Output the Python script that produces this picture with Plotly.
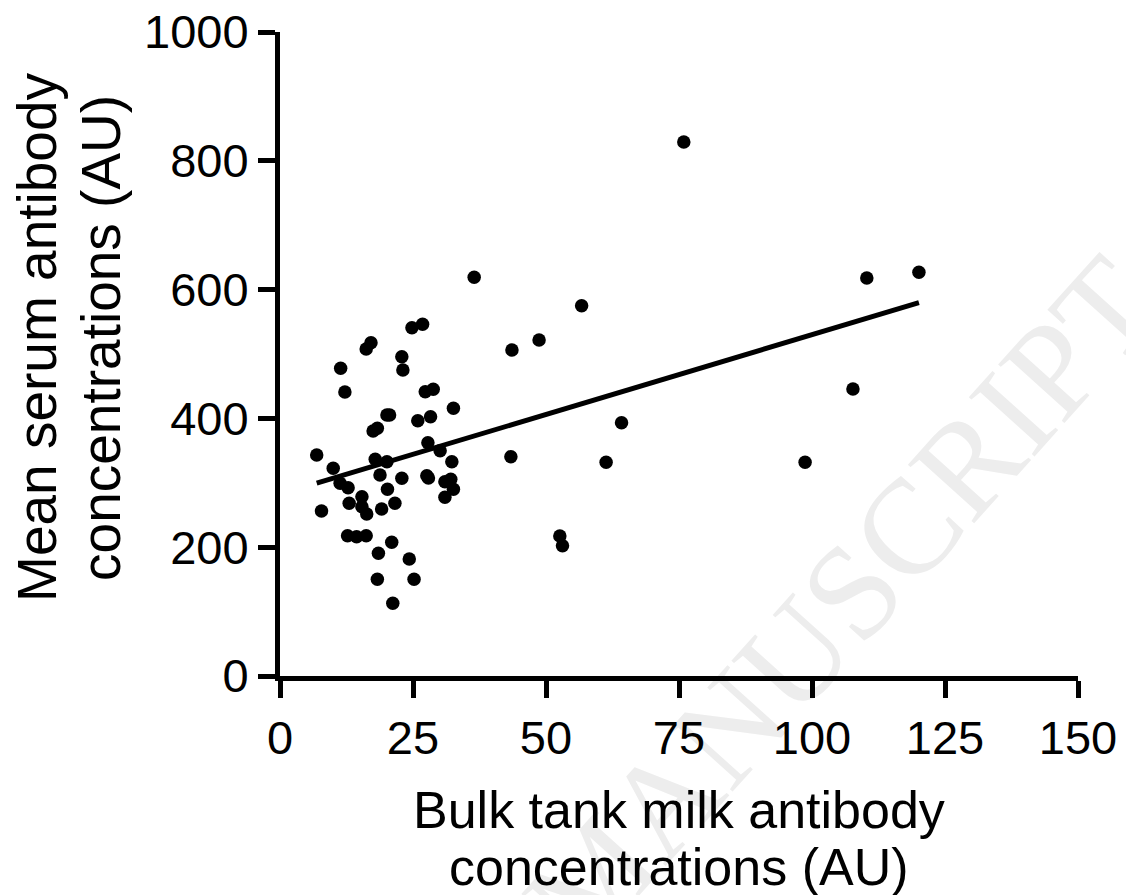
import numpy as np
import plotly.graph_objects as go

# Bulk tank milk antibody concentrations (AU)
milk_au = [
    24.8, 26.8, 16.2, 17.1, 22.9, 23.1, 11.4, 12.2, 27.3, 28.8,
    20.1, 20.6, 17.5, 18.3, 25.9, 28.3, 32.6, 27.8,
    6.9, 10.0, 17.9, 20.1, 30.1, 32.3, 11.3, 12.8, 18.8, 22.9,
    27.6, 27.9, 31.0, 32.1, 32.6, 20.2, 15.4, 31.0, 13.0, 7.8,
    15.4, 16.3, 19.1, 21.6, 12.7, 14.4, 16.2, 21.0, 18.5, 24.3,
    18.3, 25.2, 21.2,
    36.5, 56.7, 48.7, 43.6, 64.2, 43.4, 61.3, 52.6, 53.1, 75.9,
    110.3, 120.1, 107.7, 98.7,
]
# Mean serum antibody concentrations (AU)
serum_au = [
    540.8, 546.1, 507.8, 517.5, 495.8, 475.2, 477.8, 441.0, 441.5, 445.2,
    405.3, 405.3, 380.4, 384.6, 396.4, 402.6, 415.7, 362.3,
    343.2, 322.5, 336.5, 332.8, 349.8, 332.8, 299.2, 292.4, 312.1, 307.0,
    311.0, 307.5, 301.7, 305.4, 289.9, 289.9, 278.4, 277.5, 268.2, 256.2,
    262.9, 251.6, 259.3, 268.2, 217.9, 216.3, 217.9, 207.6, 190.5, 181.7,
    150.2, 150.2, 112.9,
    619.1, 575.0, 521.7, 506.2, 393.3, 340.5, 331.8, 217.4, 202.3, 829.2,
    618.0, 626.9, 445.6, 331.8,
]

x_ticks = [0, 25, 50, 75, 100, 125, 150]
y_ticks = [0, 200, 400, 600, 800, 1000]
x_title_lines = ["Bulk tank milk antibody", "concentrations (AU)"]
y_title_lines = ["Mean serum antibody", "concentrations (AU)"]
watermark = "MANUSCRIPT"

# linear regression line over the data range
xa = np.array(milk_au)
ya = np.array(serum_au)
slope, intercept = np.polyfit(xa, ya, 1)
fit_x = np.array([xa.min(), xa.max()])
fit_y = slope * fit_x + intercept

FONT = "Arial, Liberation Sans, sans-serif"

fig = go.Figure()
fig.add_trace(go.Scatter(
    x=milk_au, y=serum_au, mode="markers",
    marker=dict(color="black", size=13.5, line=dict(width=0)),
    showlegend=False, cliponaxis=False,
))
fig.add_trace(go.Scatter(
    x=fit_x, y=fit_y, mode="lines",
    line=dict(color="black", width=5),
    showlegend=False,
))

axis_common = dict(
    showline=True, linecolor="black", linewidth=5,
    ticks="outside", tickcolor="black", tickwidth=5, ticklen=17,
    showgrid=False, zeroline=False, automargin=False,
    tickfont=dict(family=FONT, size=47, color="black"),
)
fig.update_xaxes(range=[0, 150], tickvals=x_ticks, **axis_common)
fig.update_yaxes(range=[0, 1000], tickvals=y_ticks, **axis_common)

annotations = [
    dict(text=x_title_lines[0], x=0.5, y=-0.208, xref="paper", yref="paper",
         xanchor="center", yanchor="middle", showarrow=False,
         font=dict(family=FONT, size=52, color="black")),
    dict(text=x_title_lines[1], x=0.5, y=-0.296, xref="paper", yref="paper",
         xanchor="center", yanchor="middle", showarrow=False,
         font=dict(family=FONT, size=52, color="black")),
    dict(text=y_title_lines[0], x=-0.3045, y=0.525, xref="paper", yref="paper",
         xanchor="center", yanchor="middle", showarrow=False, textangle=-90,
         font=dict(family=FONT, size=55, color="black")),
    dict(text=y_title_lines[1], x=-0.2243, y=0.525, xref="paper", yref="paper",
         xanchor="center", yanchor="middle", showarrow=False, textangle=-90,
         font=dict(family=FONT, size=55, color="black")),
]

fig.add_shape(
    type="rect", xref="paper", yref="paper",
    x0=0.67, x1=0.71, y0=0.11, y1=0.15,
    line=dict(width=0), fillcolor="rgba(0,0,0,0)", layer="below",
    label=dict(text=watermark, textangle=-48, textposition="middle center",
               font=dict(family="Liberation Serif, serif", size=135, color="#ededed")),
)

fig.update_layout(
    width=1126, height=895,
    margin=dict(l=280, r=48, t=32, b=219),
    paper_bgcolor="white", plot_bgcolor="white",
    annotations=annotations,
    showlegend=False,
)

# remove the default page margin so the figure fills the window exactly
fig.write_html(
    "out.html",
    config={"displayModeBar": False},
    post_script="document.body.style.margin='0';",
)
